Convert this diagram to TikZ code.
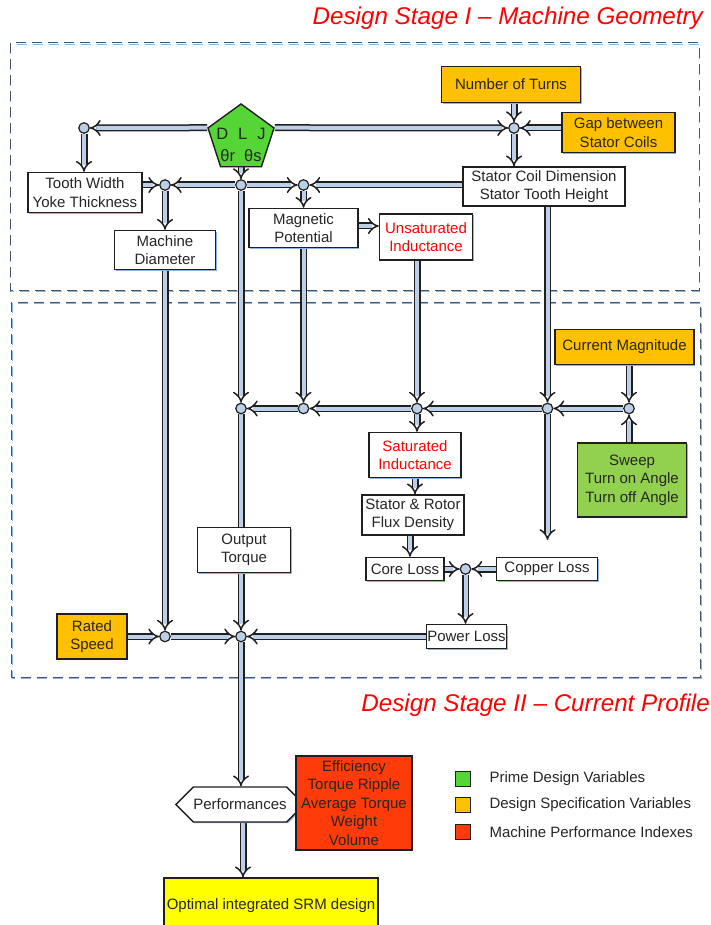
\documentclass[tikz,border=0pt]{standalone}
\usepackage{fontspec}
\setmainfont{Liberation Sans}
\usetikzlibrary{arrows.meta,shapes.geometric,shapes.symbols,shadows}
\definecolor{lineC}{HTML}{1F1F1F}
\definecolor{fillC}{HTML}{BCCFE6}
\definecolor{txtC}{HTML}{262626}
\definecolor{orangeC}{HTML}{FFC000}
\definecolor{sweepC}{HTML}{92D050}
\definecolor{pentC}{HTML}{55D636}
\definecolor{redF}{HTML}{FF3B0A}
\definecolor{yellowC}{HTML}{FFFF00}
\definecolor{redT}{HTML}{FF0000}
\definecolor{dashC}{HTML}{44546A}
\definecolor{shadC}{HTML}{8DB3E2}
\newcommand\bfs{\fontsize{15}{18.5}\selectfont}
\pgfdeclarelayer{bg}
\pgfdeclarelayer{lines}
\pgfsetlayers{bg,lines,main}
\begin{document}
\begin{tikzpicture}[x=1pt,y=-1pt,
  box/.style={draw=lineC, line width=1.4pt, fill=white, align=center, inner xsep=2pt, inner ysep=1pt,
    font=\bfs, text=txtC, drop shadow={shadow xshift=1.2pt, shadow yshift=-1.2pt, fill=shadC, opacity=1}},
  junc/.style={circle, draw=lineC, fill=fillC, line width=1.2pt, minimum size=10.5pt, inner sep=0pt},
  conn/.style={draw=lineC, line width=1.5pt, double=fillC, double distance=4pt},
  arr/.style={conn, -{Implies[scale=1.35]}},
  dbox/.style={draw=dashC, line width=1pt, dash pattern=on 10pt off 6pt},
  dsh/.style={draw=shadC, line width=0.8pt, dash pattern=on 10pt off 6pt},
  legsq/.style={draw=lineC, line width=1.3pt, minimum size=15pt, inner sep=0pt},
  legtext/.style={anchor=west, font=\fontsize{15}{17}\selectfont, text=txtC},
  title/.style={font=\fontsize{24.2}{28}\selectfont\itshape, text=redT, anchor=base east, inner sep=0pt}
]
\useasboundingbox (0,0) rectangle (711,925);

% stage frames
\begin{pgfonlayer}{bg}
\fill[white] (0,0) rectangle (711,925);
\draw[dsh] (10.8,44) rectangle (699.8,291);
\draw[dbox] (10,43) rectangle (699,290);
\draw[dsh] (12.3,303) rectangle (701.3,678);
\draw[dbox] (11.5,302) rectangle (700.5,677);
\end{pgfonlayer}

\node[title] (t1) at (703,25) {Design Stage I -- Machine Geometry};
\node[title] (t2) at (710,711) {Design Stage II -- Current Profile};

% pentagon
\node[regular polygon, regular polygon sides=5, minimum size=69.4pt, inner sep=0pt,
  draw=lineC, line width=1.4pt, fill=pentC] (pent) at (241,138.7) {};
\node[align=center, font=\fontsize{16.5}{22}\selectfont, text=txtC, inner sep=0pt] (ptext) at (241,145)
  {D\hspace{10pt}L\hspace{10pt}J\\θr\hspace{9pt}θs};

% boxes
\node[box, minimum width=139pt, minimum height=36pt, fill=orangeC] (nt) at (511,84.5) {Number of Turns};
\node[box, minimum width=113pt, minimum height=40pt, fill=orangeC] (gap) at (618.5,132.5) {Gap between\\Stator Coils};
\node[box, minimum width=162pt, minimum height=39pt] (sc) at (544,186.5) {Stator Coil Dimension\\Stator Tooth Height};
\node[box, minimum width=114pt, minimum height=40pt] (tw) at (85,192.5) {Tooth Width\\Yoke Thickness};
\node[box, minimum width=101pt, minimum height=39pt] (md) at (165,250) {Machine\\Diameter};
\node[box, minimum width=109pt, minimum height=39pt] (mp) at (303.5,228) {Magnetic\\Potential};
\node[box, minimum width=93pt, minimum height=46pt, text=redT] (un) at (426,237) {Unsaturated\\Inductance};
\node[box, minimum width=139pt, minimum height=35pt, fill=orangeC] (cm) at (624.5,347) {Current Magnitude};
\node[box, minimum width=109pt, minimum height=74pt, fill=sweepC] (sw) at (632,480) {Sweep\\Turn on Angle\\Turn off Angle};
\node[box, minimum width=92pt, minimum height=45pt, text=redT] (sat) at (415,455) {Saturated\\Inductance};
\node[box, minimum width=102pt, minimum height=40pt] (flux) at (413,515) {Stator \& Rotor\\Flux Density};
\node[box, minimum width=78pt, minimum height=23pt] (core) at (405,569) {Core Loss};
\node[box, minimum width=101pt, minimum height=23pt] (cop) at (547,569) {Copper Loss};
\node[box, minimum width=80pt, minimum height=24pt, inner xsep=0pt] (pl) at (466.5,636.5) {Power Loss};
\node[box, minimum width=93pt, minimum height=45pt] (ot) at (244,550) {Output\\Torque};
\node[box, minimum width=70pt, minimum height=45pt, fill=orangeC] (rs) at (92,636.5) {Rated\\Speed};
\node[signal, signal to=west and east, draw=lineC, line width=1.4pt, fill=white, font=\bfs, text=txtC,
  minimum width=120pt, minimum height=35pt, inner xsep=0pt,
  drop shadow={shadow xshift=1.2pt, shadow yshift=-1.2pt, fill=shadC, opacity=1}] (perf) at (240,804.5) {Performances};
\node[box, minimum width=116pt, minimum height=94pt, fill=redF, inner ysep=0pt] (idx) at (354,803) {Efficiency\\Torque Ripple\\Average Torque\\Weight\\Volume};
\node[box, minimum width=214pt, minimum height=56pt, fill=yellowC] (opt) at (271,906) {Optimal integrated SRM design};

% junctions
\node[junc] (J0) at (84,128) {};
\node[junc] (J1) at (514,128) {};
\node[junc] (J2) at (165,185) {};
\node[junc] (J3) at (241,185) {};
\node[junc] (J4) at (303.5,185) {};
\node[junc] (Ja) at (241,408.5) {};
\node[junc] (Jb) at (303.5,408.5) {};
\node[junc] (Jc) at (417,408.5) {};
\node[junc] (Jd) at (547.5,408.5) {};
\node[junc] (Je) at (629,408.5) {};
\node[junc] (Jl) at (465.5,569) {};
\node[junc] (Jf) at (165,636.5) {};
\node[junc] (Jg) at (241,636.5) {};
\coordinate (endc) at (547.5,540);

% legend
\node[legsq, fill=pentC] (lg1) at (463,779) {};
\node[legsq, fill=orangeC] (lg2) at (463,805) {};
\node[legsq, fill=redF] (lg3) at (463,832) {};
\node[legtext] (lt1) at (486,779) {Prime Design Variables};
\node[legtext] (lt2) at (486,805) {Design Specification Variables};
\node[legtext] (lt3) at (486,832) {Machine Performance Indexes};

% connectors
\begin{pgfonlayer}{lines}
\draw[arr] (pent.corner 2) -- (J0);
\draw[arr] (J0) -- (J0 |- tw.north);
\draw[arr] (pent.corner 5) -- (J1);
\draw[arr] (nt.south -| J1) -- (J1);
\draw[arr] (gap.west |- J1) -- (J1);
\draw[arr] (J1) -- (J1 |- sc.north);
\draw[arr] (J3 |- pent.south) -- (J3);
\draw[arr] (J3) -- (J2);
\draw[arr] (tw.east |- J2) -- (J2);
\draw[arr] (J2) -- (J2 |- md.north);
\draw[arr] (J3) -- (J4);
\draw[arr] (sc.west |- J4) -- (J4);
\draw[arr] (J4) -- (J4 |- mp.north);
\draw[arr] ([yshift=2pt]mp.east) -- ([yshift=2pt]mp.east -| un.west);
\draw[arr] (J3) -- (Ja);
\draw[arr] (mp.south -| Jb) -- (Jb);
\draw[arr] (un.south -| Jc) -- (Jc);
\draw[arr] (sc.south -| Jd) -- (Jd);
\draw[arr] (Jd) -- (endc);
\draw[arr] (cm.south -| Je) -- (Je);
\draw[arr] (sw.north -| Je) -- (Je);
\draw[arr] (Je) -- (Jd);
\draw[arr] (Jd) -- (Jc);
\draw[arr] (Jc) -- (Jb);
\draw[arr] (Jb) -- (Ja);
\draw[arr] (Jc) -- (Jc |- sat.north);
\draw[arr] (sat.south) -- (sat.south |- flux.north);
\draw[arr] ([xshift=-3pt]flux.south) -- ([xshift=-3pt]flux.south |- core.north);
\draw[arr] (core.east) -- (Jl);
\draw[arr] (cop.west) -- (Jl);
\draw[arr] (Jl) -- (Jl |- pl.north);
\draw[conn] (Ja) -- (Ja |- ot.north);
\draw[arr] (ot.south -| Jg) -- (Jg);
\draw[arr] (md.south) -- (Jf);
\draw[arr] (rs.east) -- (Jf);
\draw[arr] (Jf) -- (Jg);
\draw[arr] (pl.west) -- (Jg);
\draw[arr] (Jg) -- (Jg |- perf.north);
\draw[arr] ([xshift=3pt]perf.south) -- ([xshift=3pt]perf.south |- opt.north);
\end{pgfonlayer}
\end{tikzpicture}
\end{document}
